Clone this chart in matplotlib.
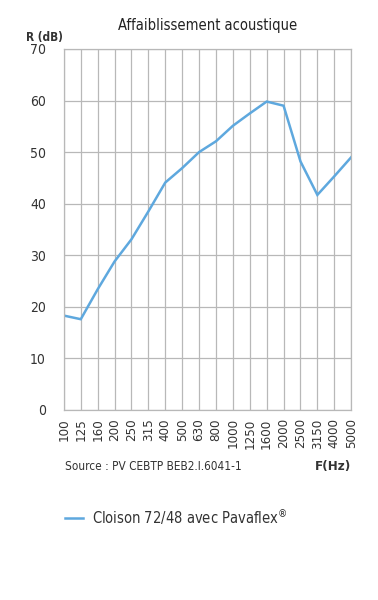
import matplotlib
matplotlib.use("Agg")
import matplotlib.pyplot as plt
from matplotlib import font_manager
import numpy as np

# Data
freqs = ['100', '125', '160', '200', '250', '315', '400', '500', '630', '800',
         '1000', '1250', '1600', '2000', '2500', '3150', '4000', '5000']
r_db = [18.3, 17.6, 23.4, 28.8, 33.1, 38.5, 44.1, 46.9, 50.0, 52.1,
        55.1, 57.5, 59.8, 59.0, 48.2, 41.7, 45.3, 49.0]
y_ticks = [0, 10, 20, 30, 40, 50, 60, 70]
series_label = 'Cloison 72/48 avec Pavaflex$^{®}$'

# condensed face if the system has one
cond = [f for f in font_manager.fontManager.ttflist
        if f.name == 'DejaVu Sans' and 'ondensed' in f.fname]
plt.rcParams['font.family'] = ['DejaVu Sans']
if cond:
    plt.rcParams['font.stretch'] = 'condensed'
txt = '#333333'
grid = '#b8b8b8'

fig = plt.figure(figsize=(3.78, 6.0), dpi=100)
ax = fig.add_axes([0.169, 0.3167, 0.76, 0.6017])

x = np.arange(len(freqs))
ax.plot(x, r_db, color='#5ea8de', lw=1.8, solid_joinstyle='miter')

ax.set_xlim(0, len(freqs) - 1)
ax.set_ylim(0, 70)
ax.set_xticks(x)
ax.set_xticklabels(freqs, rotation=90, fontsize=9.5, color=txt)
ax.set_yticks(y_ticks)
ax.set_yticklabels([str(v) for v in y_ticks], fontsize=10, color=txt)
ax.tick_params(length=0, pad=6)
ax.tick_params(axis='y', pad=13)
ax.grid(True, color=grid, lw=0.9)
ax.set_axisbelow(True)
for s in ax.spines.values():
    s.set_color(grid)
    s.set_linewidth(0.9)

fig.text(0.55, 0.957, 'Affaiblissement acoustique', ha='center', va='center',
         fontsize=10.5, color='#222222')
fig.text(0.07, 0.937, 'R (dB)', ha='left', va='center', fontsize=8.5,
         fontweight='bold', color=txt)
fig.text(0.172, 0.223, 'Source : PV CEBTP BEB2.I.6041-1', ha='left', va='center',
         fontsize=8.5, color=txt)
fig.text(0.929, 0.223, 'F(Hz)', ha='right', va='center', fontsize=9.5,
         fontweight='bold', color=txt)

# legend entry drawn in figure coordinates
fig.add_artist(plt.Line2D([0.172, 0.22], [0.136, 0.136], transform=fig.transFigure,
                          color='#5ea8de', lw=1.8))
fig.text(0.243, 0.138, series_label, ha='left', va='center', fontsize=10.5, color=txt)

fig.savefig('out.png', dpi=100)
